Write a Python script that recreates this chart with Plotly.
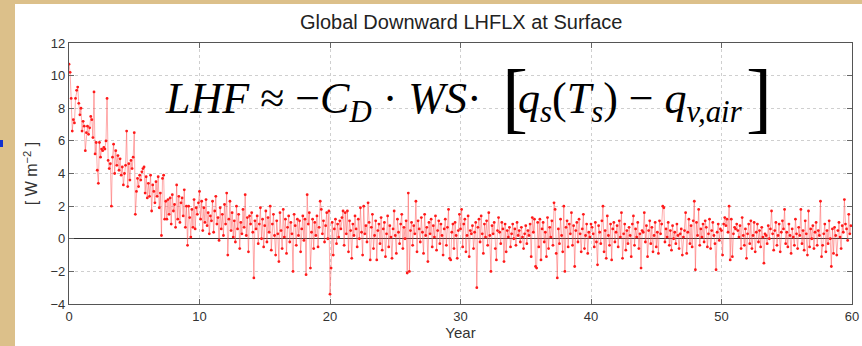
import numpy as np
import plotly.graph_objects as go

# Monthly global downward LHFLX at surface (W m^-2), 60 years, one row per year
lhflx_rows = [
    [10.7, 10.2, 8.6, 6.6, 7.3, 7.1, 8.6, 9.1, 9.3, 8.3, 7.6, 8.0],
    [6.6, 7.2, 6.9, 5.4, 6.5, 6.9, 6.4, 6.8, 7.5, 7.3, 6.2, 9.0],
    [5.2, 5.9, 4.2, 3.4, 5.9, 5.0, 5.5, 5.4, 5.6, 5.5, 6.0, 8.6],
    [4.8, 4.3, 4.6, 2.0, 5.0, 5.8, 4.0, 5.4, 4.5, 5.1, 4.2, 4.9],
    [3.9, 4.4, 3.3, 4.0, 4.5, 6.6, 3.2, 4.6, 3.6, 4.8, 4.3, 5.0],
    [6.5, 1.5, 2.9, 3.7, 3.2, 3.9, 3.6, 4.1, 4.3, 4.4, 2.8, 3.8],
    [2.5, 3.4, 2.6, 3.9, 1.7, 3.3, 2.9, 2.2, 3.5, 2.6, 3.8, 1.9],
    [2.8, 0.2, 3.7, 3.9, 1.2, 2.3, 1.2, 2.4, 1.5, 2.5, 0.9, 2.7],
    [1.7, 2.1, 0.7, 3.3, 1.2, 2.6, 1.0, 2.2, 2.5, 1.4, 3.0, 0.7],
    [2.0, -0.4, 2.0, 1.3, 0.1, 1.8, 0.7, 2.4, 0.6, 1.9, 1.5, 2.2],
    [2.9, 1.2, 2.3, 0.5, 1.9, 1.0, 2.4, 0.8, 1.6, 0.3, 1.4, 1.1],
    [2.3, 0.4, 1.7, 2.6, 0.9, 1.3, -0.1, 1.9, 0.6, 1.5, 0.2, 2.1],
    [0.9, 2.8, -1.0, 1.2, 2.3, 0.5, 1.6, 0.1, 1.1, -0.2, 2.0, 0.6],
    [1.5, -0.6, 1.0, 0.3, 1.8, 0.7, 2.7, 0.2, 1.3, -0.8, 1.4, 0.9],
    [1.6, 0.4, -2.4, 1.1, 0.6, 1.4, -0.3, 0.9, 1.9, 0.0, 1.2, -0.5],
    [0.8, 1.7, -0.2, 1.3, 0.4, 2.0, -0.7, 0.9, 1.5, 0.2, -1.0, 1.1],
    [0.3, -1.4, 1.6, 0.5, -0.6, 1.8, 0.1, 1.2, -0.9, 0.7, 1.4, -0.2],
    [1.0, 0.3, -2.0, 1.5, 0.8, -0.4, 1.2, 0.2, 1.1, -0.8, 0.6, 1.4],
    [-0.1, 1.2, -2.2, 2.7, 0.9, 1.6, -1.8, 0.4, 1.2, -0.6, 1.0, 0.2],
    [1.4, -0.5, 0.7, 2.3, 1.8, 0.3, 1.1, -0.2, 0.8, 1.6, 0.0, 1.7],
    [-3.4, -1.8, 1.0, -1.0, 0.6, 1.2, -0.3, 0.9, 0.1, 1.1, 0.6, 1.3],
    [1.7, -0.4, 1.6, 0.3, 1.7, -0.8, 1.1, 0.5, -1.2, 0.9, 0.2, 1.4],
    [0.6, -0.5, 1.2, 0.0, 1.9, 0.4, -1.0, 2.0, 0.3, 0.8, -0.2, 2.2],
    [1.0, -1.3, 0.7, 1.5, -0.6, 0.2, 1.1, -1.3, 0.5, 0.9, -0.3, 1.3],
    [-0.7, 0.6, 1.0, -1.1, 0.3, 1.4, -0.5, 0.8, 0.1, -1.2, 0.6, 1.7],
    [0.2, -0.9, 1.2, 0.4, -0.3, 0.9, 1.5, -0.6, 0.7, 0.0, 1.1, -2.1],
    [2.8, -2.0, 0.5, 1.0, -0.4, 0.8, 0.3, 2.3, -0.8, 1.1, 0.6, -0.2],
    [1.3, 0.4, -0.9, 1.5, 0.2, 0.7, -1.4, 1.0, 0.3, 1.2, -0.5, 0.8],
    [0.1, 1.4, -0.7, 0.5, 1.1, -0.3, 0.9, 0.2, -1.0, 0.6, 1.2, -0.4],
    [0.7, 1.8, -1.2, -1.3, 0.4, 0.9, -0.6, 1.0, 0.2, -1.2, 0.5, 1.5],
    [0.6, 1.8, -0.5, 0.9, 1.2, -0.8, 0.2, 1.4, -1.1, 0.5, 0.3, 0.8],
    [-0.6, 0.4, 1.0, -3.0, 0.7, 1.2, -0.2, 1.4, 0.3, -0.9, 0.9, 0.1],
    [1.1, -0.4, 1.6, 0.2, -2.0, 0.8, 0.3, 1.0, -0.6, -1.3, 0.5, 1.3],
    [0.4, -0.3, 1.0, 0.6, -1.4, 0.9, -0.8, 0.5, 0.1, 0.7, -0.5, 0.3],
    [0.9, 0.0, 0.6, -0.4, 1.0, 0.2, 0.5, -0.2, 0.7, 0.1, -0.6, 0.3],
    [0.8, -0.3, 0.5, 0.2, 0.9, -1.1, 1.3, 0.4, 1.2, -1.7, -1.8, 1.0],
    [-0.5, 1.2, -1.3, 0.6, 1.0, -0.2, 0.4, -1.1, 1.3, -0.6, 0.7, 0.1],
    [1.1, -0.4, 2.2, 1.8, -0.9, -2.4, 0.6, -0.3, 1.2, 0.2, -0.8, 2.0],
    [-2.0, 0.7, 1.1, -0.5, 0.9, 0.3, 1.6, -0.4, 0.8, -1.7, 0.5, 1.0],
    [-0.2, 1.2, 0.3, -0.8, 0.6, 1.5, -0.6, 0.2, 0.9, -0.9, 0.4, 0.1],
    [0.9, 0.7, 0.3, -0.5, 1.0, -0.2, -1.6, 0.8, 0.4, -0.3, 1.1, 2.0],
    [-0.8, 0.5, -1.2, 1.4, 0.2, -0.4, 0.9, -1.3, 0.6, 1.0, -0.2, 0.4],
    [0.8, -0.5, 1.1, 0.1, 1.6, -1.2, 0.3, 0.9, -0.7, 0.5, -0.3, 0.7],
    [0.2, -1.1, 0.9, 1.4, -0.4, 0.6, 0.1, 1.0, -0.6, 0.3, -1.8, 0.5],
    [0.4, 1.6, -0.2, 0.8, -1.1, 0.5, 1.1, -0.3, 0.7, -0.8, 0.2, 1.0],
    [-0.5, 0.4, -0.9, 1.1, 0.3, 0.9, 2.0, 1.9, -0.2, 0.6, 0.1, 1.0],
    [-0.4, 0.5, -0.7, 0.8, 0.0, 0.4, -0.3, 0.9, 0.2, -0.6, 0.3, 0.6],
    [-1.0, 0.1, 0.5, 1.6, -0.9, 0.4, 1.2, -0.3, 0.8, -0.5, 1.1, 2.3],
    [-1.9, 1.0, 0.2, 1.8, -0.4, 0.6, 0.1, 0.9, -0.2, 1.1, 0.7, -0.5],
    [0.3, 1.2, -0.6, 0.5, 1.0, 0.2, -0.3, -1.9, 0.4, 0.9, -0.1, 0.6],
    [0.5, -1.0, 0.9, 1.3, 0.8, 1.2, 0.4, 2.0, -1.3, 1.2, -1.1, 0.3],
    [0.7, 0.6, 0.9, 0.5, 0.1, 0.8, -0.6, 1.3, 0.2, -0.4, 0.6, -1.2],
    [0.3, 0.9, -0.3, 1.1, -0.6, 0.2, 1.0, -0.8, 0.4, 0.9, -0.2, 0.5],
    [-0.5, 0.7, 0.1, -1.5, 0.3, 0.2, -0.3, 0.8, 0.0, 0.6, 1.7, 0.3],
    [-0.7, 0.5, 1.0, -0.4, 0.2, 0.9, -0.8, 0.4, 1.1, 0.6, 1.8, -0.3],
    [0.4, -0.5, 0.9, 0.2, -0.9, 0.6, 0.1, -0.4, 1.2, 0.3, -0.6, 0.7],
    [0.2, 1.8, -0.3, 0.5, -0.7, 1.1, 0.3, -1.0, 1.7, -0.5, 0.6, 0.0],
    [0.8, -0.6, 0.4, 1.0, -0.4, 0.5, 0.2, 2.3, -1.1, -0.4, 0.3, 0.9],
    [-0.8, 0.5, -0.3, 1.1, 0.0, -1.7, 0.6, -0.9, 0.7, 0.2, -1.0, 0.5],
    [1.0, 0.1, -0.6, 0.8, 0.4, 2.4, 0.9, 0.6, -0.1, 1.5, 0.3, 0.8],
]

x_ticks = [0, 10, 20, 30, 40, 50, 60]
y_ticks = [-4, -2, 0, 2, 4, 6, 8, 10, 12]

lhflx = [v for row in lhflx_rows for v in row]
year = np.arange(len(lhflx)) / 12.0

W, H = 862, 346
L, R, T, B = 69, 852, 43, 304

def px(x):
    return (x - L) / (R - L)

def py(y):
    return (B - y) / (B - T)

fig = go.Figure()
fig.add_trace(go.Scatter(
    x=year, y=lhflx, mode="lines+markers",
    line=dict(color="rgba(255,70,70,0.45)", width=1),
    marker=dict(color="#ff1a1a", size=2.8),
    showlegend=False, hoverinfo="skip", cliponaxis=True,
))

axis_common = dict(
    showline=True, linecolor="#555", linewidth=1.2, mirror="ticks",
    ticks="inside", ticklen=5, tickcolor="#666",
    showgrid=True, gridcolor="#cfcfcf", griddash="dot", gridwidth=1,
    tickfont=dict(family="Liberation Sans, Arial", size=13, color="#333"),
    automargin=False,
)

fig.update_xaxes(range=[0, 60], tickvals=x_ticks, zeroline=False,
                 title=dict(text="Year", standoff=4,
                            font=dict(family="Liberation Sans, Arial", size=15, color="#333")),
                 **axis_common)
fig.update_yaxes(range=[-4, 12], tickvals=y_ticks, zeroline=True,
                 zerolinecolor="#333", zerolinewidth=1,
                 title=dict(text="[ W m<sup>\u22122</sup> ]", standoff=8,
                            font=dict(family="Liberation Sans, Arial", size=16, color="#333")),
                 **axis_common)

shapes = [
    # white figure panel over the parchment background
    dict(type="rect", xref="paper", yref="paper", layer="below",
         x0=px(15), x1=px(W + 5), y0=py(4), y1=py(H + 5),
         fillcolor="white", line=dict(width=0)),
    # small blue mark at left edge
    dict(type="rect", xref="paper", yref="paper", layer="below",
         x0=px(0), x1=px(3), y0=py(140), y1=py(147),
         fillcolor="#1030d0", line=dict(width=0)),
]

eq_font = dict(family="Liberation Serif, Times New Roman", size=44, color="black")
br_font = dict(family="Liberation Serif, Times New Roman", size=78, color="black")
annotations = [
    dict(text="Global Downward LHFLX at Surface", xref="paper", yref="paper",
         x=px(461), y=py(22), xanchor="center", yanchor="middle", showarrow=False,
         font=dict(family="Liberation Sans, Arial", size=20, color="#222")),
    dict(text="<i>LHF</i> \u2248 \u2212<i>C</i><sub><i>D</i></sub> \u00b7 <i>WS</i>\u00b7",
         xref="paper", yref="paper", x=px(163), y=py(101), xanchor="left",
         yanchor="middle", showarrow=False, font=eq_font),
    dict(text="[", xref="paper", yref="paper", x=px(500), y=py(97),
         xanchor="left", yanchor="middle", showarrow=False, font=br_font),
    dict(text="<i>q</i><sub><i>s</i></sub>(<i>T</i><sub><i>s</i></sub>) \u2212 <i>q</i><sub><i>v,air</i></sub>",
         xref="paper", yref="paper", x=px(516), y=py(101), xanchor="left",
         yanchor="middle", showarrow=False, font=eq_font),
    dict(text="]", xref="paper", yref="paper", x=px(744), y=py(97),
         xanchor="left", yanchor="middle", showarrow=False, font=br_font),
]

fig.update_layout(
    width=W, height=H,
    margin=dict(l=L, r=W - R, t=T, b=H - B, autoexpand=False),
    paper_bgcolor="#dcc08a", plot_bgcolor="white",
    shapes=shapes, annotations=annotations,
)

fig.write_html("out.html", config={"displayModeBar": False},
               post_script="document.body.style.margin='0';document.body.style.overflow='hidden';")
